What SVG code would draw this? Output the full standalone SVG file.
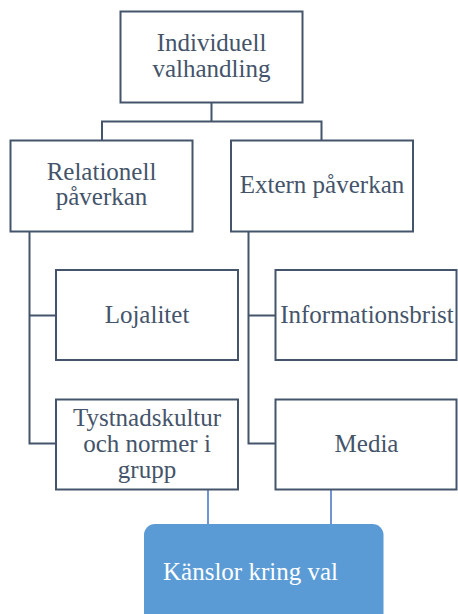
<svg xmlns="http://www.w3.org/2000/svg" width="458" height="614" viewBox="0 0 458 614">
<style>
.box{fill:#ffffff;stroke:#44546a;stroke-width:2}
.c{fill:none;stroke:#44546a;stroke-width:2}
.b{fill:none;stroke:#4472c4;stroke-width:1.5}
</style>
<rect width="458" height="614" fill="#ffffff"/>
<g id="connectors">
<path class="c" d="M211.5 102 V121.5 M102 140 V121.5 H321.5 V140"/>
<path class="c" d="M29.5 232 V443.5 H56 M29.5 315.5 H56"/>
<path class="c" d="M248.5 232 V443.5 H275 M248.5 315.5 H275"/>
<path class="b" d="M208 489 V525 M331 489 V525"/>
</g>
<g font-family="Liberation Serif, serif" font-size="25" fill="#44546a" text-anchor="middle">
<g id="individuell">
<rect class="box" x="120.5" y="11.5" width="182" height="91"/>
<text x="211.5" y="51">Individuell</text>
<text x="211.5" y="77">valhandling</text>
</g>
<g id="relationell">
<rect class="box" x="10.5" y="140.5" width="182" height="91"/>
<text x="101.5" y="180">Relationell</text>
<text x="101.5" y="205">påverkan</text>
</g>
<g id="extern">
<rect class="box" x="231" y="140.5" width="182" height="91"/>
<text x="322" y="193">Extern påverkan</text>
</g>
<g id="lojalitet">
<rect class="box" x="56" y="270" width="182" height="90"/>
<text x="147" y="323">Lojalitet</text>
</g>
<g id="informationsbrist">
<rect class="box" x="275.5" y="270" width="181" height="90"/>
<text x="367" y="323">Informationsbrist</text>
</g>
<g id="tystnadskultur">
<rect class="box" x="56" y="399.5" width="182" height="90"/>
<text x="147" y="426">Tystnadskultur</text>
<text x="147" y="452">och normer i</text>
<text x="147" y="478">grupp</text>
</g>
<g id="media">
<rect class="box" x="275.5" y="399.5" width="181" height="90"/>
<text x="366.5" y="452">Media</text>
</g>
<g id="kanslor">
<rect x="144" y="524" width="239.5" height="110" rx="11" fill="#5b9bd5"/>
<text x="163" y="580" text-anchor="start" fill="#ffffff">Känslor kring val</text>
</g>
</g>
</svg>
